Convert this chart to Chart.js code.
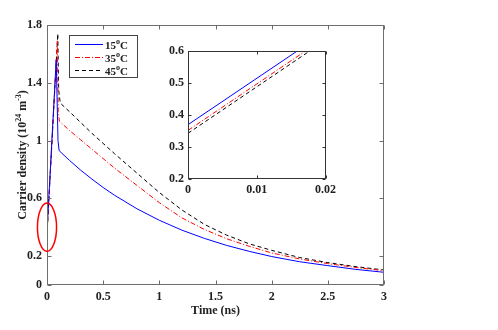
<!doctype html>
<html lang="en">
<head>
<meta charset="utf-8">
<title>Carrier density</title>
<style>
  * { margin: 0; padding: 0; box-sizing: border-box; }
  body { background: #fff; width: 498px; height: 330px; overflow: hidden; }
  .wrap { position: relative; width: 498px; height: 330px; }
  #main { position: absolute; left: 0; top: 0; }
  #inset { position: absolute; left: 150px; top: 40px; }
</style>
</head>
<body>
<div class="wrap">
  <canvas id="main" width="498" height="330"></canvas>
  <canvas id="inset" width="190" height="160"></canvas>
</div>
<script src="https://cdn.jsdelivr.net/npm/chart.js@4.4.1/dist/chart.umd.min.js"></script>
<script>
// decay part, shared time grid (ns)
const tTail = [0.2, 0.3, 0.4, 0.5, 0.6, 0.8, 1.0, 1.2, 1.4, 1.6, 1.8, 2.0, 2.25, 2.5, 2.75, 3.0];

// 15 C
const tHead15 = [0, 0.082, 0.098, 0.108];
const nHead15 = [0.37, 1.56, 1.0, 0.93];
const nTail15 = [0.863, 0.795, 0.733, 0.675, 0.622, 0.528, 0.448, 0.38, 0.323, 0.274, 0.233, 0.197, 0.161, 0.134, 0.108, 0.088];
// 35 C
const tHead35 = [0, 0.092, 0.1, 0.11];
const nHead35 = [0.352, 1.69, 1.2, 1.134];
const nTail35 = [1.07, 1.005, 0.94, 0.875, 0.81, 0.69, 0.57, 0.465, 0.385, 0.32, 0.268, 0.222, 0.18, 0.148, 0.121, 0.099];
// 45 C
const tHead45 = [0, 0.096, 0.104, 0.118];
const nHead45 = [0.343, 1.74, 1.35, 1.26];
const nTail45 = [1.2, 1.125, 1.05, 0.98, 0.91, 0.775, 0.64, 0.52, 0.42, 0.345, 0.285, 0.24, 0.19, 0.155, 0.127, 0.104];

const labels = ["15", "35", "45"];
const yTicksMain = [0, 0.2, 0.6, 1, 1.4, 1.8];
const xTicksInset = [0, 0.01, 0.02];
const yTicksInset = [0.2, 0.3, 0.4, 0.5, 0.6];

// marked region (data units)
const ring = { t: 0, n: 0.4, dt: 0.085, dn: 0.167 };

const pts = (th, nh, nt) => th.map((t, i) => ({ x: t, y: nh[i] })).concat(tTail.map((t, i) => ({ x: t, y: nt[i] })));
const series = [
  { data: pts(tHead15, nHead15, nTail15), color: "#0000ff", dash: [] },
  { data: pts(tHead35, nHead35, nTail35), color: "#ff0000", dash: [5, 2, 1, 2] },
  { data: pts(tHead45, nHead45, nTail45), color: "#000000", dash: [4, 3] },
];
const mkSets = () => series.map((s, i) => ({
  label: labels[i], data: s.data, borderColor: s.color, borderDash: s.dash,
  borderWidth: 1, pointRadius: 0, tension: 0, fill: false,
}));

const FONT = "'Liberation Serif', 'DejaVu Serif', serif";
const tickFont = { family: FONT, size: 12, weight: "bold" };

// draw box + inward ticks like matlab
function boxTicks(chart, color, len) {
  const { ctx, chartArea: a, scales: { x, y } } = chart;
  ctx.save();
  ctx.strokeStyle = color; ctx.lineWidth = 1;
  const L = Math.round(a.left) + 0.5, R = Math.round(a.right) - 0.5;
  const T = Math.round(a.top) + 0.5, B = Math.round(a.bottom) - 0.5;
  ctx.strokeRect(L, T, R - L, B - T);
  ctx.beginPath();
  x.ticks.forEach(t => {
    const px = Math.round(x.getPixelForValue(t.value)) + 0.5;
    ctx.moveTo(px, B); ctx.lineTo(px, B - len);
    ctx.moveTo(px, T); ctx.lineTo(px, T + len);
  });
  y.ticks.forEach(t => {
    const py = Math.round(y.getPixelForValue(t.value)) + 0.5;
    ctx.moveTo(L, py); ctx.lineTo(L + len, py);
    ctx.moveTo(R, py); ctx.lineTo(R - len, py);
  });
  ctx.stroke();
  ctx.restore();
}

// text with superscript pieces: [[text, sup?], ...]
function richText(ctx, parts, x, y, size, align) {
  const big = `bold ${size}px ${FONT}`, small = `bold ${Math.round(size * 0.7)}px ${FONT}`;
  let w = 0;
  parts.forEach(([s, sup]) => { ctx.font = sup ? small : big; w += ctx.measureText(s).width; });
  let cx = align === "center" ? x - w / 2 : x;
  ctx.textAlign = "left"; ctx.textBaseline = "alphabetic";
  parts.forEach(([s, sup]) => {
    ctx.font = sup ? small : big;
    ctx.fillText(s, cx, sup ? y - size * 0.4 : y);
    cx += ctx.measureText(s).width;
  });
}

const mainDeco = {
  id: "mainDeco",
  afterDraw(chart) {
    const { ctx, scales: { x, y } } = chart;
    boxTicks(chart, "#6e6e6e", 4);
    ctx.save();
    ctx.fillStyle = "#222";
    // axis titles
    richText(ctx, [["Time (ns)"]], (chart.chartArea.left + chart.chartArea.right) / 2, 314, 12, "center");
    ctx.translate(26, (chart.chartArea.top + chart.chartArea.bottom) / 2);
    ctx.rotate(-Math.PI / 2);
    richText(ctx, [["Carrier density (10"], ["24", 1], [" m"], ["-3", 1], [")"]], 0, 0, 12, "center");
    ctx.restore();

    // legend
    ctx.save();
    ctx.fillStyle = "#fff"; ctx.strokeStyle = "#444"; ctx.lineWidth = 1;
    ctx.fillRect(69.5, 35.5, 68, 42); ctx.strokeRect(69.5, 35.5, 68, 42);
    series.forEach((s, i) => {
      const ry = 44.5 + i * 13;
      ctx.strokeStyle = s.color; ctx.setLineDash(s.dash);
      ctx.beginPath(); ctx.moveTo(75, ry); ctx.lineTo(103, ry); ctx.stroke();
      ctx.setLineDash([]);
      ctx.fillStyle = "#222";
      richText(ctx, [[labels[i]], ["o", 1], ["C"]], 105, ry + 4, 11, "left");
    });
    ctx.restore();

    // red ring around the start
    const cx = x.getPixelForValue(ring.t), cy = y.getPixelForValue(ring.n);
    const rx = x.getPixelForValue(ring.t + ring.dt) - cx, ry = cy - y.getPixelForValue(ring.n + ring.dn);
    ctx.save();
    ctx.strokeStyle = "#ff0000"; ctx.lineWidth = 1.5;
    ctx.beginPath(); ctx.ellipse(cx, cy, rx, ry, 0, 0, Math.PI * 2); ctx.stroke();
    ctx.restore();
  }
};

const insetDeco = { id: "insetDeco", afterDraw(chart) { boxTicks(chart, "#333", 3); } };

const fmt = v => String(+(+v).toFixed(3));

new Chart(document.getElementById("main"), {
  type: "line",
  data: { datasets: mkSets() },
  options: {
    responsive: false, animation: false, devicePixelRatio: 1,
    layout: { padding: { left: 0, top: 25, right: 114, bottom: 0 } },
    plugins: { legend: { display: false }, tooltip: { enabled: false } },
    scales: {
      x: { type: "linear", min: 0, max: 3,
        grid: { display: false, drawTicks: false }, border: { display: false },
        ticks: { stepSize: 0.5, padding: 5, color: "#222", font: tickFont, maxRotation: 0, autoSkip: false, callback: fmt },
        afterFit: s => { s.height = 45; } },
      y: { type: "linear", min: 0, max: 1.8,
        grid: { display: false, drawTicks: false }, border: { display: false },
        afterBuildTicks: s => { s.ticks = yTicksMain.map(v => ({ value: v })); },
        ticks: { padding: 5, color: "#222", font: tickFont, autoSkip: false, callback: fmt },
        afterFit: s => { s.width = 47; } },
    },
  },
  plugins: [mainDeco],
});

new Chart(document.getElementById("inset"), {
  type: "line",
  data: { datasets: mkSets() },
  options: {
    responsive: false, animation: false, devicePixelRatio: 1,
    layout: { padding: { left: 0, top: 11, right: 14, bottom: 0 } },
    plugins: { legend: { display: false }, tooltip: { enabled: false } },
    scales: {
      x: { type: "linear", min: 0, max: 0.02,
        grid: { display: false, drawTicks: false }, border: { display: false },
        afterBuildTicks: s => { s.ticks = xTicksInset.map(v => ({ value: v })); },
        ticks: { padding: 4, color: "#222", font: tickFont, maxRotation: 0, autoSkip: false, callback: fmt },
        afterFit: s => { s.height = 21; } },
      y: { type: "linear", min: 0.2, max: 0.6,
        grid: { display: false, drawTicks: false }, border: { display: false },
        afterBuildTicks: s => { s.ticks = yTicksInset.map(v => ({ value: v })); },
        ticks: { padding: 4, color: "#222", font: tickFont, autoSkip: false, callback: fmt },
        afterFit: s => { s.width = 38; } },
    },
  },
  plugins: [insetDeco],
});
</script>
</body>
</html>
